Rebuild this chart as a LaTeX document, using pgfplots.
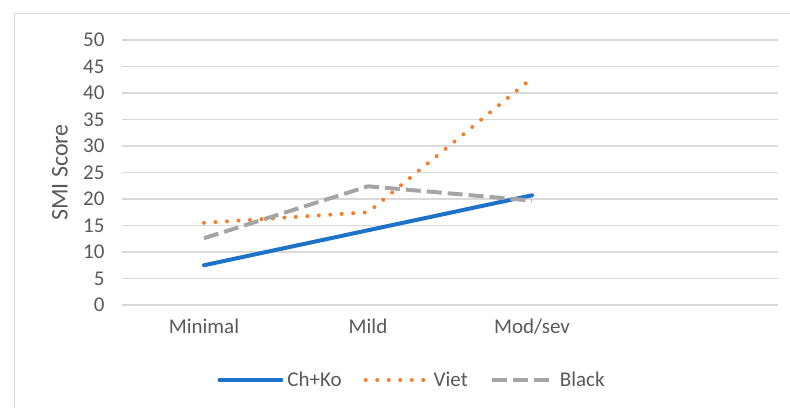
\documentclass[border=0pt]{standalone}
\usepackage{pgfplots}
\pgfplotsset{compat=1.18}
\usepackage{fontspec}
\setmainfont{Carlito}
\definecolor{txt}{RGB}{89,89,89}
\definecolor{gridc}{RGB}{217,217,217}
\definecolor{cblue}{RGB}{30,115,200}
\definecolor{corange}{RGB}{247,125,40}
\definecolor{cgray}{RGB}{165,165,165}
\begin{document}
\begin{tikzpicture}[x=1pt,y=1pt]
\path[use as bounding box] (0,0) rectangle (790,408);
\draw[gridc, line width=1pt] (14,0) -- (14,394) -- (790,394);
\begin{axis}[
  at={(122pt,103pt)}, anchor=south west,
  scale only axis, width=656pt, height=265pt,
  xmin=-0.5, xmax=3.5, ymin=0, ymax=50,
  xtick={0,1,2}, xticklabels={Minimal,Mild,Mod/sev},
  ytick={0,5,...,50},
  axis line style={draw=none},
  major tick length=0pt, tick style={draw=none},
  xmajorgrids=false, ymajorgrids=true, grid style={draw=gridc, line width=1.2pt},
  tick label style={font=\fontsize{21}{24}\selectfont, text=txt},
  /pgf/number format/assume math mode=true,
  yticklabel style={xshift=-14pt},
  xticklabel style={yshift=-10pt},
  ylabel={SMI Score},
  every axis y label/.style={at={(rel axis cs:0,0.5)}, xshift=-62pt, rotate=90, anchor=center, font=\fontsize{24}{28}\selectfont, text=txt},
  legend style={draw=none, fill=none, at={(0.4436,-0.283)}, anchor=center,
    legend columns=3, font=\fontsize{21}{24}\selectfont, text=txt,
    /tikz/every even column/.append style={column sep=18pt},
    /tikz/every odd column/.append style={column sep=0pt},
    nodes={inner xsep=4pt}},
  legend image code/.code={\draw[#1] (0pt,0pt) -- (62pt,0pt);},
]
\addplot[cblue, line width=4pt, line cap=round] coordinates {(0,7.5) (1,14.1) (2,20.7)};
\addlegendentry{Ch+Ko}
\addplot[corange, line width=4pt, line cap=round, dash pattern=on 0pt off 11.5pt] coordinates {(0,15.5) (1,17.5) (2,42.8)};
\addlegendentry{Viet}
\addplot[cgray, line width=4pt, dash pattern=on 15pt off 6pt] coordinates {(0,12.6) (1,22.4) (2,19.7)};
\addlegendentry{Black}
\end{axis}
\end{tikzpicture}
\end{document}
